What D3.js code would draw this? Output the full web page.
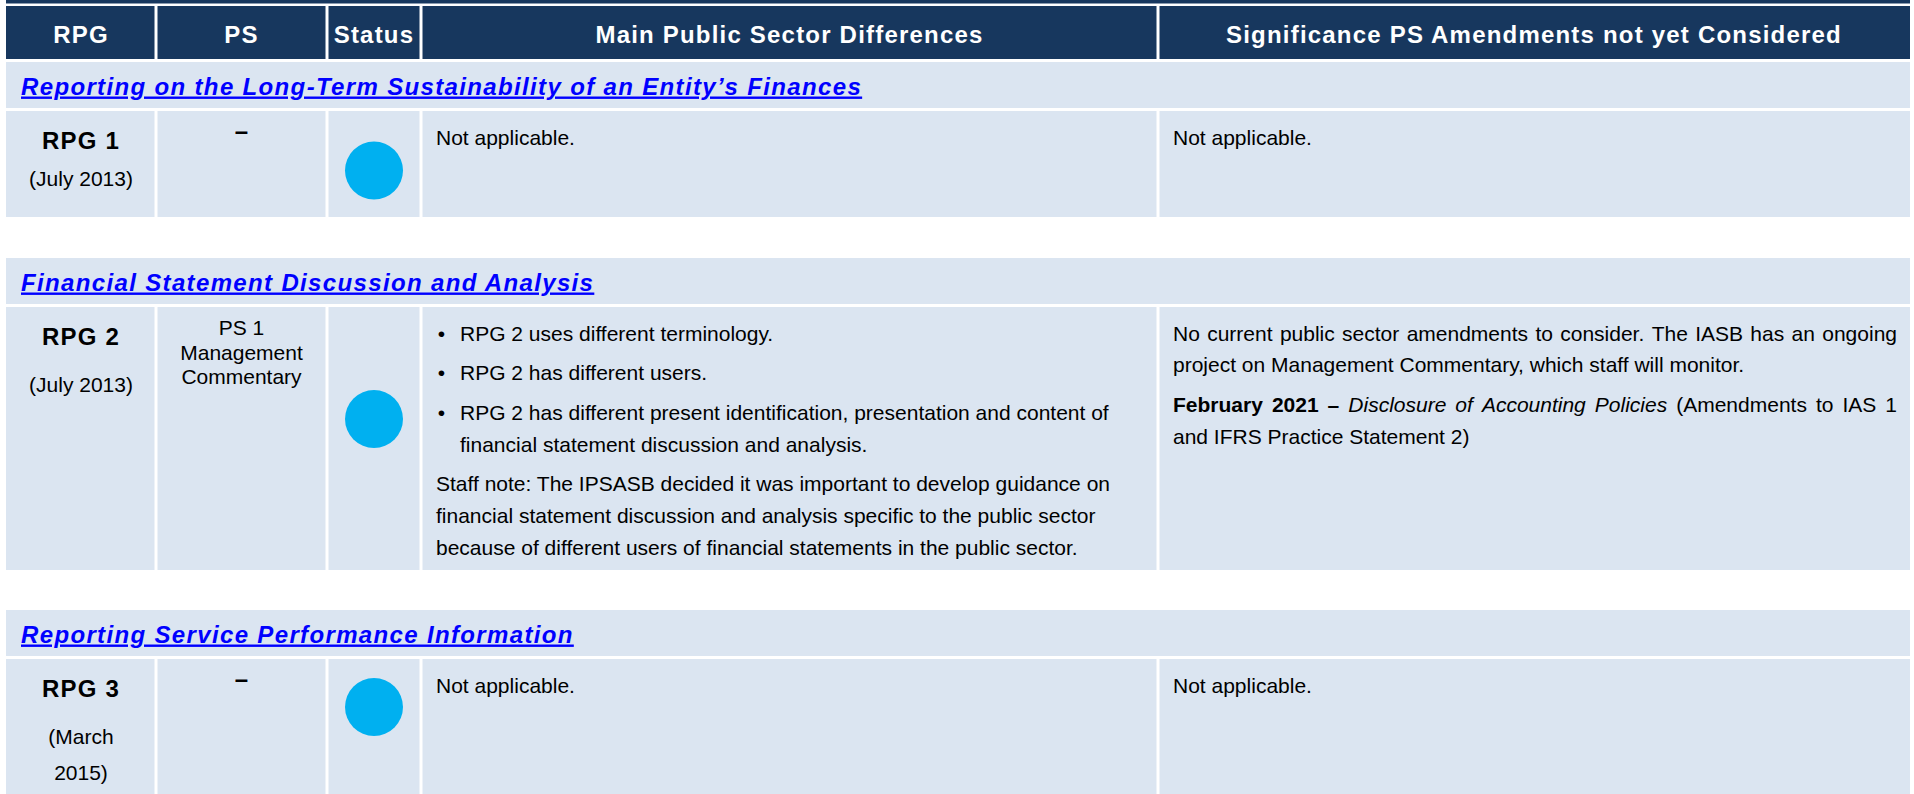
<!DOCTYPE html>
<html>
<head>
<meta charset="utf-8">
<script src="https://cdn.jsdelivr.net/npm/d3@7"></script>
<style>
html, body { margin: 0; padding: 0; background: #ffffff; }
svg { display: block; }
text { font-family: "Liberation Sans", Arial, sans-serif; }
</style>
</head>
<body>
<svg id="chart" width="1914" height="794"></svg>
<script>
// ---------------- DATA ----------------
const columns = ["RPG", "PS", "Status", "Main Public Sector Differences", "Significance PS Amendments not yet Considered"];

const sectionTitles = [
  "Reporting on the Long-Term Sustainability of an Entity\u2019s Finances",
  "Financial Statement Discussion and Analysis",
  "Reporting Service Performance Information"
];

const rpgCodes = ["RPG 1", "RPG 2", "RPG 3"];
const rpgDates = [["(July 2013)"], ["(July 2013)"], ["(March", "2015)"]];
const psRefs = [["\u2013"], ["PS 1", "Management", "Commentary"], ["\u2013"]];
const statusValues = ["aligned", "aligned", "aligned"];

const differences = [
  [{ bullet: false, lines: ["Not applicable."] }],
  [
    { bullet: true, lines: ["RPG 2 uses different terminology."] },
    { bullet: true, lines: ["RPG 2 has different users."] },
    { bullet: true, lines: ["RPG 2 has different present identification, presentation and content of",
                            "financial statement discussion and analysis."] },
    { bullet: false, lines: ["Staff note: The IPSASB decided it was important to develop guidance on",
                             "financial statement discussion and analysis specific to the public sector",
                             "because of different users of financial statements in the public sector."] }
  ],
  [{ bullet: false, lines: ["Not applicable."] }]
];

const amendments = [
  [{ bullet: false, lines: ["Not applicable."] }],
  [
    { bullet: false, lines: ["No current public sector amendments to consider. The IASB has an ongoing",
                             "project on Management Commentary, which staff will monitor."] },
    { bullet: false, lines: ["**February 2021 \u2013** *Disclosure of Accounting Policies* (Amendments to IAS 1",
                             "and IFRS Practice Statement 2)"] }
  ],
  [{ bullet: false, lines: ["Not applicable."] }]
];

// ---------------- LAYOUT / STYLE ----------------
const W = 1914, H = 794;
const NAVY = "#17375E", CELL = "#DBE5F1", LINK = "#0000FF", STATUS = "#00B0F0";
const colBounds = [6, 156, 327, 421, 1158, 1910];
const GAP = 3;
const headerTop = 6, headerBottom = 59;
const blockTops = [62, 258, 610];
const sectionH = 46;
const rowHeights = [106, 263, 200];
const circleDy = [59.5, 112, 48];
const dateDy = [36.7, 46.5, 46.5];
const dateStep = 36.7;
const bodyFirst = 33.5, lineStep = 31.7, paraGap = 8;
const padL = 15, padRJust = 13;

const xStart = d3.scaleOrdinal(columns, colBounds.slice(0, columns.length));
const xEnd = d3.scaleOrdinal(columns, colBounds.slice(1));
const xMid = c => (xStart(c) + xEnd(c)) / 2;

const svg = d3.select("#chart");

function bigBold(sel, ls) {
  return sel.attr("font-size", 24).attr("font-weight", "bold").attr("letter-spacing", ls == null ? 1.2 : ls);
}
function cellRect(g, c, y, h, fill) {
  const i = columns.indexOf(c);
  const x0 = xStart(c) + (i > 0 ? GAP / 2 : 0);
  const x1 = xEnd(c) - (i < columns.length - 1 ? GAP / 2 : 0);
  g.append("rect").attr("x", x0).attr("y", y).attr("width", x1 - x0).attr("height", h).attr("fill", fill);
}

// top bar
svg.append("rect").attr("x", colBounds[0]).attr("y", 0)
  .attr("width", colBounds[5] - colBounds[0]).attr("height", 3.5).attr("fill", NAVY);

// header
const hg = svg.append("g");
columns.forEach(c => cellRect(hg, c, headerTop, headerBottom - headerTop, NAVY));
hg.selectAll("text.h").data(columns).join("text")
  .attr("class", "h")
  .attr("x", d => xMid(d)).attr("y", 43)
  .attr("text-anchor", "middle").attr("fill", "#ffffff")
  .text(d => d)
  .call(bigBold);

// rich text helpers
function parseRich(s) {
  const parts = s.split(/(\*\*[^*]+\*\*|\*[^*]+\*)/).filter(p => p.length);
  const tokens = [];
  parts.forEach(p => {
    let style = "n", t = p;
    if (p.startsWith("**")) { style = "b"; t = p.slice(2, -2); }
    else if (p.startsWith("*")) { style = "i"; t = p.slice(1, -1); }
    t.split(" ").filter(w => w.length).forEach(w => tokens.push({ w, style }));
  });
  return tokens;
}
function styleWord(sel, style) {
  sel.attr("font-size", 21).attr("fill", "#000");
  if (style === "b") sel.attr("font-weight", "bold");
  if (style === "i") sel.attr("font-style", "italic");
  return sel;
}
function measure(g, w, style) {
  const t = styleWord(g.append("text").text(w), style);
  const len = t.node().getComputedTextLength();
  t.remove();
  return len;
}

function drawParagraphs(g, paras, x, right, top, justify) {
  let y = top + bodyFirst;
  let first = true;
  paras.forEach((p) => {
    p.lines.forEach((line, li) => {
      if (!first) y += lineStep + (li === 0 ? paraGap : 0);
      first = false;
      if (p.bullet && li === 0) {
        g.append("text").attr("x", x + 5.5).attr("y", y).attr("text-anchor", "middle")
          .attr("font-size", 21).attr("fill", "#000").text("\u2022");
      }
      const tx = p.bullet ? x + 24 : x;
      const isRich = line.includes("*");
      const doJustify = justify && li < p.lines.length - 1;
      if (!isRich && !doJustify) {
        styleWord(g.append("text").attr("x", tx).attr("y", y).text(line), "n");
        return;
      }
      const tokens = parseRich(line);
      const widths = tokens.map(t => measure(g, t.w, t.style));
      const spaceW = measure(g, "a a", "n") - measure(g, "aa", "n");
      let gapW = spaceW;
      if (doJustify && tokens.length > 1) {
        gapW = (right - tx - d3.sum(widths)) / (tokens.length - 1);
      }
      let cx = tx;
      tokens.forEach((t, k) => {
        styleWord(g.append("text").attr("x", cx).attr("y", y).text(t.w), t.style);
        cx += widths[k] + gapW;
      });
    });
  });
}

// blocks
sectionTitles.forEach((title, i) => {
  const g = svg.append("g");
  const st = blockTops[i];
  g.append("rect").attr("x", colBounds[0]).attr("y", st)
    .attr("width", colBounds[5] - colBounds[0]).attr("height", sectionH).attr("fill", CELL);
  g.append("text").attr("x", 21).attr("y", st + 32.5)
    .attr("fill", LINK).attr("font-style", "italic").attr("text-decoration", "underline")
    .text(title).call(bigBold, 1.35);

  const rt = st + sectionH + GAP;
  const rh = rowHeights[i];
  columns.forEach(c => cellRect(g, c, rt, rh, CELL));

  // RPG
  const c0 = columns[0];
  g.append("text").attr("x", xMid(c0)).attr("y", rt + 38).attr("text-anchor", "middle")
    .attr("fill", "#000").text(rpgCodes[i]).call(bigBold);
  rpgDates[i].forEach((d, k) => {
    g.append("text").attr("x", xMid(c0)).attr("y", rt + 38 + dateDy[i] + k * dateStep)
      .attr("text-anchor", "middle").attr("font-size", 21).attr("fill", "#000").text(d);
  });

  // PS
  const c1 = columns[1];
  psRefs[i].forEach((d, k) => {
    const t = g.append("text").attr("x", xMid(c1)).attr("y", rt + 28 + k * 24.5)
      .attr("text-anchor", "middle").attr("fill", "#000").text(d);
    if (d === "\u2013") t.attr("font-size", 24).attr("font-weight", "bold");
    else t.attr("font-size", 21);
  });

  // Status
  const c2 = columns[2];
  g.append("circle").attr("cx", xMid(c2)).attr("cy", rt + circleDy[i]).attr("r", 29)
    .attr("fill", statusValues[i] === "aligned" ? STATUS : "#999");

  // Differences
  const c3 = columns[3];
  drawParagraphs(g, differences[i], xStart(c3) + padL, xEnd(c3) - padRJust, rt, false);
  // Amendments
  const c4 = columns[4];
  drawParagraphs(g, amendments[i], xStart(c4) + padL, xEnd(c4) - padRJust, rt, true);
});
</script>
</body>
</html>
